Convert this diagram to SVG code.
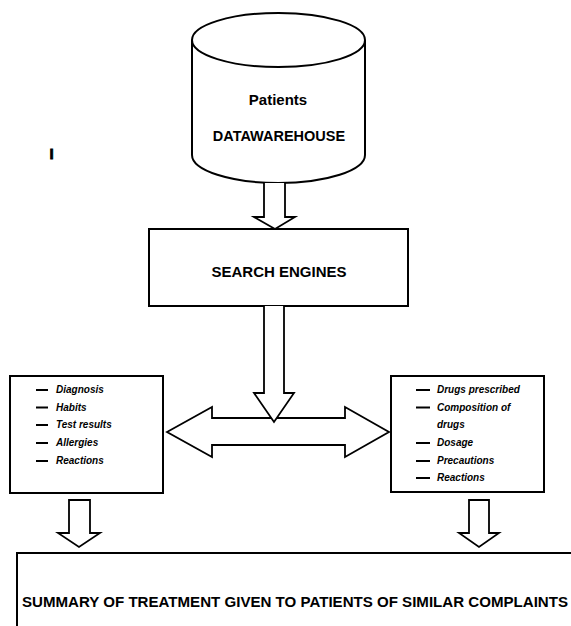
<svg xmlns="http://www.w3.org/2000/svg" width="571" height="626" viewBox="0 0 571 626">
  <style>
    .box { fill: #fff; stroke: #000; stroke-width: 2; }
    .arrow { fill: #fff; stroke: #000; stroke-width: 1.8; stroke-linejoin: miter; }
    .title { font-family: "Liberation Sans", Arial, sans-serif; font-weight: bold; fill: #000; }
    .item { font-family: "Liberation Sans", Arial, sans-serif; font-weight: bold; font-style: italic; font-size: 10px; fill: #000; }
    .dash { stroke: #000; stroke-width: 2; }
  </style>
  <rect width="571" height="626" fill="#fff"/>

  <text class="title" x="49.5" y="159" font-size="15" stroke="#000" stroke-width="0.8">I</text>

  <!-- data warehouse cylinder -->
  <g id="warehouse">
    <path class="box" d="M192,40 L192,155 A86.5,28 0 0 0 365,155 L365,40"/>
    <ellipse class="box" cx="278.5" cy="40" rx="86.5" ry="27"/>
    <text class="title" x="278" y="105" font-size="15" text-anchor="middle">Patients</text>
    <text class="title" x="279" y="141" font-size="14.5" text-anchor="middle">DATAWAREHOUSE</text>
  </g>

  <!-- search engines -->
  <g id="search">
    <rect class="box" x="149" y="229" width="259" height="77"/>
    <text class="title" x="279" y="277" font-size="15" text-anchor="middle">SEARCH ENGINES</text>
  </g>

  <!-- patient history -->
  <g id="history">
    <rect class="box" x="10" y="376" width="153" height="117"/>
    <g class="dash">
      <line x1="36" y1="390" x2="48" y2="390"/>
      <line x1="36" y1="407.5" x2="48" y2="407.5"/>
      <line x1="36" y1="425" x2="48" y2="425"/>
      <line x1="36" y1="443" x2="48" y2="443"/>
      <line x1="36" y1="461" x2="48" y2="461"/>
    </g>
    <text class="item" x="56" y="393">Diagnosis</text>
    <text class="item" x="56" y="410.5">Habits</text>
    <text class="item" x="56" y="428">Test results</text>
    <text class="item" x="56" y="446">Allergies</text>
    <text class="item" x="56" y="464">Reactions</text>
  </g>

  <!-- drug details -->
  <g id="drugs">
    <rect class="box" x="391" y="376" width="153" height="116"/>
    <g class="dash">
      <line x1="416" y1="390" x2="430" y2="390"/>
      <line x1="416" y1="407.5" x2="430" y2="407.5"/>
      <line x1="416" y1="443" x2="430" y2="443"/>
      <line x1="416" y1="461" x2="430" y2="461"/>
      <line x1="416" y1="478" x2="430" y2="478"/>
    </g>
    <text class="item" x="437" y="393">Drugs prescribed</text>
    <text class="item" x="437" y="410.5">Composition of</text>
    <text class="item" x="437" y="428">drugs</text>
    <text class="item" x="437" y="446">Dosage</text>
    <text class="item" x="437" y="464">Precautions</text>
    <text class="item" x="437" y="481">Reactions</text>
  </g>

  <!-- summary -->
  <g id="summary">
    <rect class="box" x="17" y="553" width="570" height="90"/>
    <text class="title" x="22" y="607" font-size="14.5" textLength="546" lengthAdjust="spacingAndGlyphs">SUMMARY OF TREATMENT GIVEN TO PATIENTS OF SIMILAR COMPLAINTS</text>
  </g>

  <!-- block arrows -->
  <g id="connectors">
    <path class="arrow" d="M264,183 L264,217 L254,217 L275,229 L295,217 L285,217 L285,183"/>
    <path class="arrow" d="M167,432 L212,407 L212,418 L345,418 L345,407 L389,432 L345,457 L345,445 L212,445 L212,457 Z"/>
    <path class="arrow" d="M264,306 L264,393 L254,393 L274,422 L294,393 L284,393 L284,306"/>
    <path class="arrow" d="M69,500 L90,500 L90,533 L100,533 L79,547 L58,533 L69,533 Z"/>
    <path class="arrow" d="M469,500 L489,500 L489,533 L499,533 L479,547 L459,533 L469,533 Z"/>
  </g>
</svg>
